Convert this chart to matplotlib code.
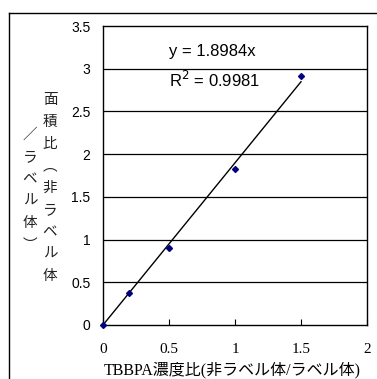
import matplotlib.pyplot as plt
from matplotlib.lines import Line2D

# データ
conc_ratio = [0.0, 0.2, 0.5, 1.0, 1.5]
area_ratio = [0.0, 0.371, 0.905, 1.83, 2.91]
slope = 1.8984
r2 = 0.9981
trend_x = [0.0, 1.5]
xticks = [0, 0.5, 1, 1.5, 2]
yticks = [0, 0.5, 1, 1.5, 2, 2.5, 3, 3.5]
ytick_labels = ['0', '0.5', '1', '1.5', '2', '2.5', '3', '3.5']
ylabel_col1 = '面積比︵非ラベル体'
ylabel_col2 = '／ラベル体︶'
xlabel = 'TBBPA濃度比(非ラベル体/ラベル体)'

W, H = 377, 379
fig = plt.figure(figsize=(W / 100, H / 100), dpi=100)
ax = fig.add_axes([103 / W, 1 - 325 / H, (367 - 103) / W, (325 - 26) / H])

# 外枠
fig.add_artist(Line2D([9 / W, 9 / W], [0, 1 - 13 / H], color='black', lw=1.0))
fig.add_artist(Line2D([9 / W, 1], [1 - 13 / H, 1 - 13 / H], color='black', lw=1.0))

for v in yticks[1:-1]:
    ax.axhline(v, color='black', lw=0.9, zorder=1)

ax.plot(trend_x, [slope * v for v in trend_x], color='black', lw=1.0, zorder=2)
ax.plot(conc_ratio, area_ratio, linestyle='none', marker='D', markersize=3,
        color='#000080', zorder=3, clip_on=False)

ax.set_xlim(0, 2)
ax.set_ylim(0, 3.5)
ax.set_xticks(xticks)
ax.set_xticklabels(['0', '0.5', '1', '1.5', '2'], family='Liberation Serif', fontsize=11)
ax.set_yticks(yticks)
ax.set_yticklabels(ytick_labels, family='Liberation Sans', fontsize=10)
ax.tick_params(axis='x', direction='in', length=4, width=0.8, pad=13)
ax.tick_params(axis='y', length=0, pad=9)
for s in ax.spines.values():
    s.set_linewidth(1.0)

ax.text(0.5, 3.2, f'y = {slope:.4f}x', fontsize=12, family='Liberation Sans',
        ha='left', va='center')
ax.text(0.5, 2.87, f'R$^2$ = {r2:.4f}', fontsize=12, family='Liberation Sans',
        ha='left', va='center')

fig.text(104 / W, 1 - 370 / H, xlabel, family=['Liberation Serif', 'Noto Sans CJK JP'],
         fontsize=11.5, ha='left', va='center')

# 縦書きラベル
jp = ['Noto Sans CJK JP', 'DejaVu Sans']
for col, x0, y0 in [(ylabel_col1, 50, 100), (ylabel_col2, 30, 135)]:
    for i, ch in enumerate(col):
        fig.text(x0 / W, 1 - (y0 + 22 * i) / H, ch, family=jp, fontsize=10.5,
                 ha='center', va='center', color='#222222')

fig.savefig('out.png', dpi=100)
